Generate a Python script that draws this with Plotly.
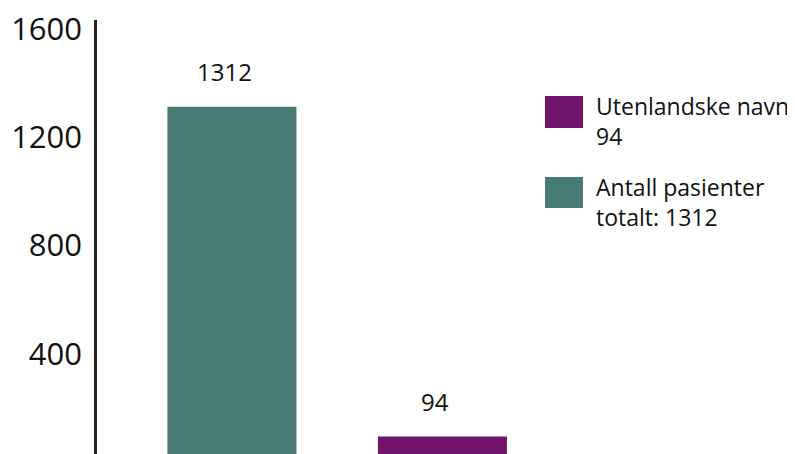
import plotly.graph_objects as go

categories = ["Antall pasienter totalt", "Utenlandske navn"]
values = [1312, 94]
bar_colors = ["#477C76", "#72146B"]
tick_values = [400, 800, 1200, 1600]
tick_labels = ["400", "800", "1200", "1600"]
legend_labels = ["Utenlandske navn<br>94", "Antall pasienter<br>totalt: 1312"]
legend_colors = ["#72146B", "#477C76"]

OFF = 8  # page body margin
W, H = 795, 454
L, T, B = 97 - OFF, 20 - OFF, 0
R = W - (530 - OFF)
PW, PH = W - L - R, H - T - B

def px_x(x):
    return (x - OFF - L) / PW

def px_y(y):
    return 1 - (y - OFF - T) / PH

FONT = "Open Sans"

fig = go.Figure()
fig.add_trace(go.Bar(
    x=[0, 1], y=values, marker=dict(color=bar_colors, line=dict(width=0)),
    width=0.613, showlegend=False, hoverinfo="skip",
))

for i, v in enumerate(values):
    fig.add_annotation(x=i, y=v, xref="x", yref="y", text=str(v), showarrow=False,
                       yanchor="bottom", yshift=17, xshift=-7,
                       font=dict(family=FONT, size=24, color="#111"))

# manual legend
sq = [(96, 128), (177, 208)]
for (y0, y1), lab, col in zip(sq, legend_labels, legend_colors):
    fig.add_shape(type="rect", xref="paper", yref="paper",
                  x0=px_x(545), x1=px_x(583), y0=px_y(y1), y1=px_y(y0),
                  fillcolor=col, line=dict(width=0))
    fig.add_annotation(xref="paper", yref="paper", x=px_x(594), y=px_y(y0 - 8),
                       xanchor="left", yanchor="top", align="left", showarrow=False,
                       text=lab, font=dict(family=FONT, size=23, color="#111"))

fig.update_layout(
    width=W, height=H,
    margin=dict(l=L, r=R, t=T, b=B),
    paper_bgcolor="white", plot_bgcolor="white",
    xaxis=dict(range=[-0.641, 1.416], visible=False, fixedrange=True),
    yaxis=dict(range=[0, 1632], tickvals=tick_values, ticktext=tick_labels,
               showgrid=False, zeroline=False, showline=True, linecolor="#222",
               linewidth=2.5, ticks="", ticklabelstandoff=6,
               ticklabeloverflow="allow",
               tickfont=dict(family=FONT, size=31, color="#111")),
)

fig.write_html("out.html")
